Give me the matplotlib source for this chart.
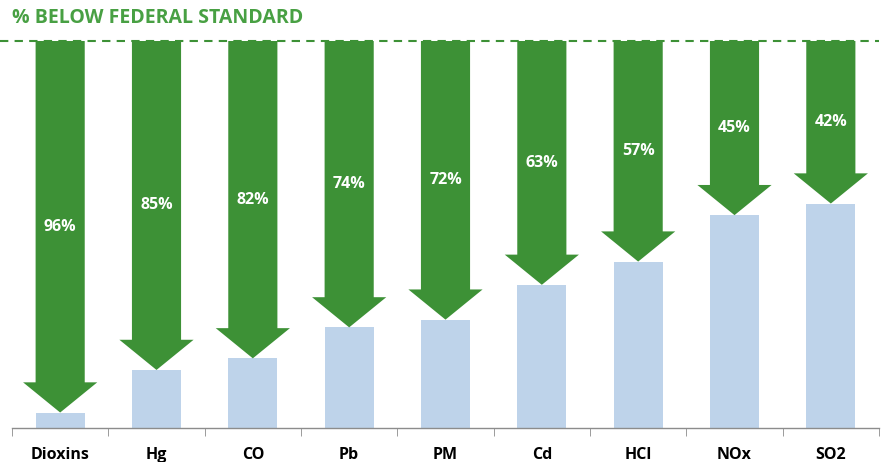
import matplotlib
matplotlib.use("Agg")
import matplotlib.pyplot as plt
from matplotlib.patches import FancyArrow

# pollutants and the percent below federal standard
categories = ["Dioxins", "Hg", "CO", "Pb", "PM", "Cd", "HCl", "NOx", "SO2"]
pct_below = [96, 85, 82, 74, 72, 63, 57, 45, 42]

green = "#3D9136"
title_green = "#48A043"
light_blue = "#BED3EA"

plt.rcParams["font.family"] = ["Open Sans", "DejaVu Sans"]

fig = plt.figure(figsize=(8.85, 4.62), dpi=100)
ax = fig.add_axes([12 / 885, 34 / 462, 867 / 885, 398 / 462])
ax.set_xlim(-0.5, len(categories) - 0.5)
ax.set_ylim(0, 100 + 11 / 387 * 100)

x = list(range(len(categories)))
emissions = [100 - p for p in pct_below]
ax.bar(x, emissions, width=0.51, color=light_blue, zorder=1)

for xi, p in zip(x, pct_below):
    arr = FancyArrow(xi, 100, 0, -p, width=0.51, head_width=0.77,
                     head_length=7.8, length_includes_head=True,
                     color=green, lw=0, zorder=2)
    ax.add_patch(arr)
    ax.text(xi, 100 - p / 2, f"{p}%", color="white", ha="center",
            va="center", fontsize=11.5, fontweight="bold", zorder=3)

# federal standard line
ax.plot([-0.62, len(categories) - 0.5], [100, 100], color=green, lw=1.5,
        ls=(0, (4, 3)), zorder=3, clip_on=False)

for s in ["top", "right", "left"]:
    ax.spines[s].set_visible(False)
ax.spines["bottom"].set_color("#8c8c8c")
ax.spines["bottom"].set_linewidth(1)
ax.set_yticks([])
ax.set_xticks(x)
ax.set_xticklabels(categories, fontsize=11.5, fontweight="bold")
ax.tick_params(axis="x", which="major", length=0, pad=14)
ax.set_xticks([i - 0.5 for i in range(len(categories) + 1)], minor=True)
ax.tick_params(axis="x", which="minor", length=6, color="#8c8c8c")

fig.text(12 / 885, 1 - 18 / 462, "% BELOW FEDERAL STANDARD", color=title_green,
         fontsize=14, fontweight="bold", ha="left", va="center")

fig.savefig("out.png", dpi=100)
